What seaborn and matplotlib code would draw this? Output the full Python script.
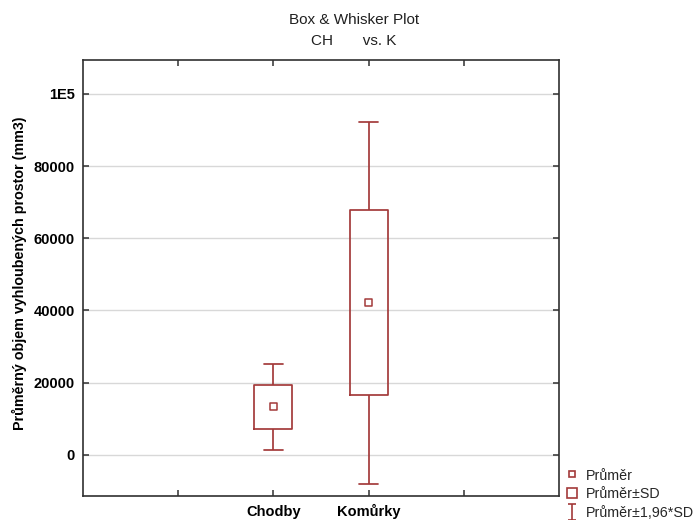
import numpy as np
import pandas as pd
import matplotlib
matplotlib.use("Agg")
import matplotlib.pyplot as plt
import seaborn as sns
from matplotlib.lines import Line2D
from matplotlib.path import Path

# ---- data ----
categories = ["Chodby", "Komůrky"]
means = [13300, 42300]
sd_low = [7200, 16600]
sd_high = [19300, 67900]
ci_low = [1300, -8000]
ci_high = [25300, 92100]

y_ticks = [0, 20000, 40000, 60000, 80000, 100000]
y_tick_labels = ["0", "20000", "40000", "60000", "80000", "1E5"]
legend_labels = ["Průměr", "Průměr±SD", "Průměr±1,96*SD"]
title_lines = ["Box & Whisker Plot", "CH       vs. K"]
y_label = "Průměrný objem vyhloubených prostor (mm3)"

# long table: the five summary values per group, so that quartiles = ±SD and
# min/max = ±1.96*SD
rows = []
for c, a, b, m, d, e in zip(categories, ci_low, sd_low, means, sd_high, ci_high):
    for v in (a, b, m, d, e):
        rows.append({"group": c, "value": v})
df = pd.DataFrame(rows)

sns.set_theme(style="white")
plt.rcParams["font.family"] = ["Liberation Sans", "DejaVu Sans"]

RED = "#A33A3A"
AX = "#303030"

fig = plt.figure(figsize=(6.96, 5.2), dpi=100)
fig.patch.set_facecolor("white")
ax = fig.add_axes([83 / 696, 24 / 520, 476 / 696, 436 / 520])

sns.boxplot(data=df, x="group", y="value", order=categories, whis=(0, 100),
            width=0.4, fill=False, color=RED, linecolor=RED, linewidth=1.25,
            medianprops={"visible": False}, ax=ax, zorder=3)

sns.scatterplot(x=np.arange(len(categories)), y=means, marker="s", s=26,
                facecolor="none", edgecolor=RED, linewidth=1.1, ax=ax,
                zorder=5, legend=False)

ax.set_xlim(-2, 3)
ax.set_xticks([-1, 0, 1, 2])
ax.set_xticklabels(["", categories[0], categories[1], ""])
ax.set_ylim(-11400, 109400)
ax.set_yticks(y_ticks)
ax.set_yticklabels(y_tick_labels)
ax.set_xlabel("")

ax.set_axisbelow(True)
ax.yaxis.grid(True, color="#d8d8d8", linewidth=1.0)
ax.xaxis.grid(False)
for sp in ax.spines.values():
    sp.set_color(AX)
    sp.set_linewidth(1.2)
    sp.set_visible(True)

ax.tick_params(axis="both", which="both", direction="in", length=4, width=1.1,
               color=AX, top=True, right=True, bottom=True, left=True,
               labelsize=10.5, labelcolor="black")
ax.tick_params(axis="x", pad=14.5)
ax.tick_params(axis="y", pad=6)
for lbl in ax.get_xticklabels() + ax.get_yticklabels():
    lbl.set_fontweight("bold")
for lbl in ax.get_xticklabels():
    lbl.set_verticalalignment("baseline")

ax.set_ylabel(y_label, fontsize=10.3, fontweight="bold", color="black")
ax.yaxis.set_label_coords(-0.117, 0.51)

fig.text(354 / 696, 1 - 20 / 520, title_lines[0], ha="center", va="center",
         fontsize=11, color="#202020")
fig.text(354 / 696, 1 - 41.5 / 520, title_lines[1], ha="center", va="center",
         fontsize=11, color="#202020")

i_path = Path([(-0.5, 1), (0.5, 1), (0, 1), (0, -1), (-0.5, -1), (0.5, -1)],
              [Path.MOVETO, Path.LINETO, Path.MOVETO, Path.LINETO,
               Path.MOVETO, Path.LINETO])
handles = [
    Line2D([], [], ls="none", marker="s", ms=4.5, mfc="none", mec=RED, mew=1.2),
    Line2D([], [], ls="none", marker="s", ms=7.0, mfc="none", mec=RED, mew=1.2),
    Line2D([], [], ls="none", marker=i_path, ms=11.5, mfc="none", mec=RED, mew=1.2),
]
fig.legend(handles, legend_labels, loc="upper left",
           bbox_to_anchor=(564.8 / 696, 1 - 468.5 / 520), frameon=False,
           fontsize=10.3, handlelength=1.0, handletextpad=0.48,
           borderpad=0, borderaxespad=0, labelspacing=0.32)

fig.savefig("out.png", dpi=100, facecolor="white")
